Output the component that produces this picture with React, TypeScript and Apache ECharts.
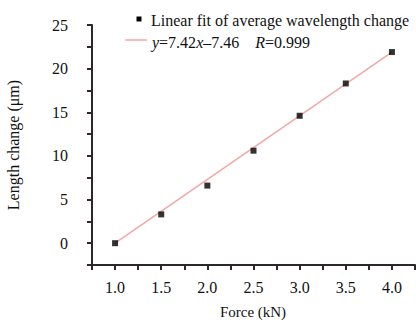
import React, { useEffect, useRef } from "react";
import * as echarts from "echarts";

const forces = [1.0, 1.5, 2.0, 2.5, 3.0, 3.5, 4.0];
const lengthChange = [0.0, 3.3, 6.6, 10.6, 14.6, 18.3, 21.9];
const fitX = [1.0, 4.0];
const fitY = [0.0, 21.9];

const FONT = "Liberation Serif";
const AXIS = "rgb(45,40,40)";

export default function App() {
  const ref = useRef<HTMLDivElement>(null);
  useEffect(() => {
    if (!ref.current) return;
    const chart = echarts.init(ref.current, undefined, { renderer: "svg" });
    chart.setOption({
      animation: false,
      backgroundColor: "#fff",
      textStyle: { fontFamily: FONT },
      grid: { left: 92, right: 1, top: 25, bottom: 55, containLabel: false, outerBoundsMode: "none" },
      xAxis: {
        type: "value",
        min: 0.75,
        max: 4.25,
        interval: 0.25,
        axisLine: { show: true, onZero: false, lineStyle: { color: AXIS, width: 2 } },
        splitLine: { show: false },
        axisTick: { show: true, inside: false, length: 5, lineStyle: { color: AXIS, width: 2 } },
        axisLabel: {
          show: true,
          margin: 14,
          fontFamily: FONT,
          fontSize: 16,
          color: "#111",
          formatter: (v: number) => (Math.abs(v * 2 - Math.round(v * 2)) < 1e-6 ? v.toFixed(1) : ""),
        },
      },
      yAxis: {
        type: "value",
        min: -2.5,
        max: 25,
        interval: 2.5,
        name: "Length change (μm)",
        nameLocation: "middle",
        nameGap: 71,
        nameTextStyle: { fontFamily: FONT, fontSize: 16, color: "#111" },
        axisLine: { show: true, onZero: false, lineStyle: { color: AXIS, width: 2 } },
        splitLine: { show: false },
        axisTick: { show: true, inside: false, length: 5, lineStyle: { color: AXIS, width: 2 } },
        axisLabel: {
          show: true,
          margin: 24,
          fontFamily: FONT,
          fontSize: 16,
          color: "#111",
          formatter: (v: number) => (v >= 0 && Math.abs(v / 5 - Math.round(v / 5)) < 1e-6 ? String(Math.round(v)) : ""),
        },
      },
      series: [
        {
          type: "line",
          name: "fit",
          data: fitX.map((x, i) => [x, fitY[i]]),
          showSymbol: false,
          lineStyle: { color: "#f2a7a7", width: 1.5 },
          z: 2,
        },
        {
          type: "scatter",
          name: "points",
          data: forces.map((x, i) => [x, lengthChange[i]]),
          symbol: "rect",
          symbolSize: 6,
          itemStyle: { color: "#000" },
          z: 3,
        },
      ],
      graphic: [
        {
          type: "text",
          x: 253,
          y: 312,
          style: {
            text: "Force (kN)",
            fontFamily: FONT,
            fontSize: 15,
            fill: "#111",
            align: "center",
            verticalAlign: "middle",
          },
        },
        { type: "rect", shape: { x: 136.5, y: 16.5, width: 5, height: 5 }, style: { fill: "#000" } },
        {
          type: "text",
          x: 151,
          y: 20,
          style: {
            text: "Linear fit of average wavelength change",
            fontFamily: FONT,
            fontSize: 16,
            fill: "#111",
            verticalAlign: "middle",
          },
        },
        { type: "line", shape: { x1: 125, y1: 40, x2: 147, y2: 40 }, style: { stroke: "#f2a7a7", lineWidth: 1.5 } },
        {
          type: "text",
          x: 152,
          y: 42,
          style: {
            text: "{i|y}=7.42{i|x}\u20137.46    {i|R}=0.999",
            fontFamily: FONT,
            fontSize: 16,
            fill: "#111",
            verticalAlign: "middle",
            rich: {
              i: { fontStyle: "italic", fontFamily: FONT, fontSize: 16, fill: "#111" },
            },
          },
        },
      ],
    });
    return () => chart.dispose();
  }, []);
  return (
    <div
      ref={ref}
      style={{ position: "fixed", left: 0, top: 0, width: 416, height: 320 }}
    />
  );
}
